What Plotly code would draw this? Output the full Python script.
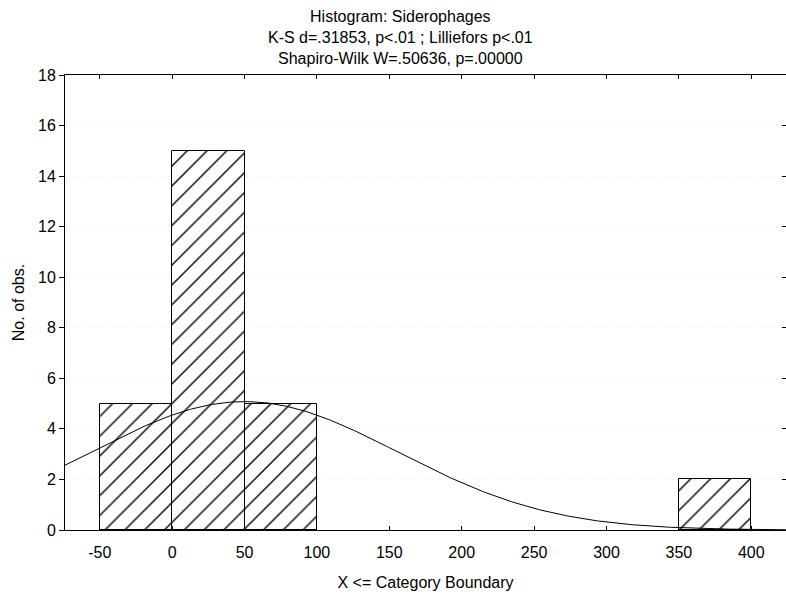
import numpy as np
import plotly.graph_objects as go

# Histogram bins (lower boundaries) and their counts
bin_left = [-50, 0, 50, 350]
bin_width = 50
counts = [5, 15, 5, 2]

# Fitted normal curve parameters
fit_mean = 50.0
fit_sd = 106.0

x_range = [-74, 424]
y_range = [0, 18]
x_ticks = [-50, 0, 50, 100, 150, 200, 250, 300, 350, 400]
y_ticks = [0, 2, 4, 6, 8, 10, 12, 14, 16, 18]

title_lines = [
    "Histogram: Siderophages",
    "K-S d=.31853, p<.01 ; Lilliefors p<.01",
    "Shapiro-Wilk W=.50636, p=.00000",
]

n_obs = sum(counts)
centers = [b + bin_width / 2 for b in bin_left]

xs = np.linspace(x_range[0], x_range[1], 400)
ys = n_obs * bin_width / (fit_sd * np.sqrt(2 * np.pi)) * np.exp(-0.5 * ((xs - fit_mean) / fit_sd) ** 2)

FONT = "Liberation Sans, Arial, sans-serif"
W, H = 786, 594
M = dict(l=65, r=0, t=75, b=64)
plot_w = W - M["l"] - M["r"]
plot_h = H - M["t"] - M["b"]

fig = go.Figure()
fig.add_trace(go.Bar(
    x=centers, y=counts, width=[bin_width] * len(counts),
    marker=dict(color="white", line=dict(color="black", width=1),
                pattern=dict(shape="/", fgcolor="black", bgcolor="white",
                             fgopacity=1, fillmode="replace",
                             size=14, solidity=0.1)),
    showlegend=False, hoverinfo="skip",
))
fig.add_trace(go.Scatter(
    x=xs, y=ys, mode="lines", line=dict(color="black", width=1),
    showlegend=False, hoverinfo="skip",
))
# right-hand tick marks (inside), no axis line
fig.add_trace(go.Scatter(x=[None], y=[None], yaxis="y2", showlegend=False))

# three-line heading above the plot
fig.add_annotation(
    text="<br>".join(title_lines), xref="paper", yref="paper",
    x=(400 - M["l"]) / plot_w, y=1 + 6 / plot_h, xanchor="center", yanchor="bottom",
    showarrow=False, font=dict(size=16, family=FONT, color="black"),
)

fig.update_layout(
    width=W, height=H,
    margin=M,
    paper_bgcolor="white", plot_bgcolor="white",
    font=dict(family=FONT, color="black", size=16),
    bargap=0,
    xaxis=dict(range=x_range, tickvals=x_ticks, ticktext=[str(v) for v in x_ticks],
               ticks="inside", ticklen=4, tickcolor="black",
               showline=True, linecolor="black", linewidth=1,
               mirror="ticks", showgrid=False, zeroline=False,
               ticklabelstandoff=8, tickfont=dict(size=16),
               title=dict(text="X <= Category Boundary", font=dict(size=16), standoff=16)),
    yaxis=dict(range=y_range, tickvals=y_ticks, ticktext=[str(v) for v in y_ticks],
               ticks="outside", ticklen=5, tickcolor="black",
               showline=True, linecolor="black", linewidth=1,
               showgrid=True, gridcolor="#f3f3f3", griddash="dot", zeroline=False,
               tickfont=dict(size=16),
               title=dict(text="No. of obs.", font=dict(size=16), standoff=9)),
    yaxis2=dict(range=y_range, tickvals=y_ticks, overlaying="y", side="right",
                ticks="inside", ticklen=4, tickcolor="black", showline=False,
                showticklabels=False, showgrid=False, zeroline=False),
)

fig.write_html("out.html")
